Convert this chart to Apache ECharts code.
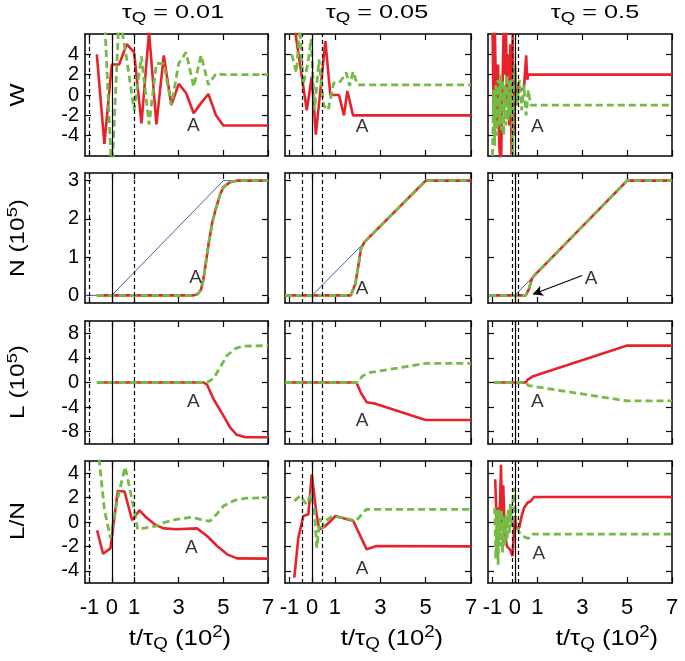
<!DOCTYPE html>
<html>
<head>
<meta charset="utf-8">
<script src="https://cdn.jsdelivr.net/npm/echarts@6.0.0/dist/echarts.min.js"></script>
<style>
html,body{margin:0;padding:0;background:#ffffff;}
#chart{width:685px;height:661px;}
</style>
</head>
<body>
<div id="chart"></div>
<script>
// ---------------- data ----------------
const tauQ = ['0.01', '0.05', '0.5'];
const tHat = [1.0, 0.45, 0.13];
const xTicks = [-1, 0, 1, 3, 5, 7];
const yTicksW = [-4, -2, 0, 2, 4];
const yTicksN = [0, 1, 2, 3];
const yTicksL = [-8, -4, 0, 4, 8];
const yTicksLN = [-4, -2, 0, 2, 4];

// W panels
const W_001_red = [[-0.67,4.0],[-0.33,-4.8],[0.0,3.0],[0.33,3.0],[0.67,5.0],[1.0,4.2],[1.33,-2.8],[1.67,6.2],[2.0,-2.9],[2.33,3.9],[2.67,-1.0],[3.0,1.1],[3.33,0.2],[3.67,-1.8],[4.0,-0.8],[4.33,0.1],[4.67,-2.0],[5.0,-3.0],[7.0,-3.0]];
const W_001_green = [[-0.67,8.0],[-0.33,8.0],[0.0,-8.0],[0.33,8.0],[0.67,3.5],[1.0,-1.5],[1.33,3.8],[1.67,-2.9],[2.0,3.1],[2.33,3.1],[2.67,-1.0],[3.0,3.1],[3.33,4.2],[3.67,0.8],[4.0,3.9],[4.33,1.0],[4.67,2.1],[5.0,2.0],[7.0,2.0]];
const W_005_red = [[-0.8,7.0],[-0.24,-1.5],[-0.02,1.8],[0.16,-3.9],[0.58,5.3],[0.8,0.0],[1.18,0.0],[1.4,-2.0],[1.55,0.4],[1.8,-2.0],[7.0,-2.0]];
const W_005_green = [[-0.9,4.0],[-0.7,2.2],[-0.55,6.5],[-0.4,1.0],[-0.2,3.0],[-0.05,5.5],[0.1,-1.5],[0.3,3.5],[0.5,-1.0],[0.7,-1.5],[0.95,1.2],[1.2,1.2],[1.5,2.2],[1.65,0.9],[1.8,2.3],[2.0,1.0],[7.0,1.0]];
const W_05_red = [[-1.0,7],[-0.95,-2],[-0.9,7],[-0.85,1],[-0.8,-3],[-0.75,3],[-0.7,-5],[-0.62,-7],[-0.55,-7],[-0.5,7],[-0.45,2],[-0.4,7],[-0.35,-1],[-0.3,4],[-0.25,-3],[-0.2,5],[-0.15,-6],[-0.1,6],[-0.05,-4],[0.0,3],[0.05,-1],[0.1,1],[0.2,0.5],[0.4,0.6],[0.5,3.9],[0.55,1.5],[0.6,2.0],[7.0,2.0]];
const W_05_green = [[-1.0,-6],[-0.95,0.5],[-0.9,-5],[-0.85,1],[-0.8,-4],[-0.75,1.5],[-0.7,-3],[-0.65,2],[-0.6,-3.5],[-0.55,1.5],[-0.5,-4],[-0.45,1],[-0.4,-3],[-0.35,2],[-0.3,-2.5],[-0.25,1.5],[-0.2,-2],[-0.15,1.5],[-0.1,-6],[-0.05,2],[0.0,3],[0.1,-1],[0.2,1.5],[0.3,-1.5],[0.4,1.0],[0.5,-2.0],[0.6,0.5],[0.7,-1.0],[7.0,-1.0]];

// N panels (red and green coincide)
const N_001 = [[-0.67,0],[3.67,0],[3.85,0.03],[4.0,0.15],[4.12,0.47],[4.34,1.35],[4.5,1.9],[4.64,2.22],[4.86,2.65],[5.0,2.83],[5.3,2.96],[5.6,3.0],[7.0,3.0]];
const N_005 = [[-1.2,0],[1.7,0],[1.9,0.3],[2.05,0.83],[2.15,1.22],[2.3,1.39],[5.0,3.0],[7.0,3.0]];
const N_05 = [[-1.15,0],[0.48,0],[0.63,0.17],[0.75,0.43],[0.85,0.51],[5.0,3.0],[7.0,3.0]];
const N_linear = [[-1.2,0],[0,0],[5,3],[7,3]];

// L panels
const L_001_red = [[-0.67,0],[4.12,0],[4.27,-0.37],[4.57,-2.77],[5.0,-5.4],[5.3,-7.3],[5.6,-8.5],[6.0,-8.9],[7.0,-8.9]];
const L_001_green = [[-0.67,0],[4.27,0],[4.57,0.7],[4.87,2.56],[5.17,4.43],[5.54,5.5],[5.84,5.9],[7.0,6.0]];
const L_005_red = [[-1.2,0],[1.95,0],[2.15,-1.7],[2.4,-3.2],[2.75,-3.4],[5.0,-6.1],[7.0,-6.1]];
const L_005_green = [[-1.2,0],[2.0,0],[2.22,1.07],[2.52,1.6],[5.0,3.1],[7.0,3.1]];
const L_05_red = [[-0.92,0],[0.48,0],[0.56,0.43],[0.78,0.96],[5.0,6.0],[7.0,6.0]];
const L_05_green = [[-0.92,0],[0.5,0],[0.6,-0.5],[5.0,-3.0],[7.0,-3.0]];

// L/N panels
const LN_001_red = [[-0.66,-0.68],[-0.39,-2.6],[-0.06,-2.16],[0.27,2.54],[0.57,2.5],[0.91,0.14],[1.24,0.96],[1.55,0.36],[1.96,-0.25],[2.33,-0.52],[2.9,-0.6],[3.82,-0.52],[4.27,-1.15],[4.72,-1.97],[5.17,-2.65],[5.61,-2.98],[7.0,-3.0]];
const LN_001_green = [[-0.67,7.0],[-0.33,1.0],[-0.06,-1.3],[0.27,2.0],[0.6,4.5],[0.95,1.5],[1.16,-0.6],[1.98,-0.33],[2.33,-0.05],[2.9,0.22],[3.6,0.4],[4.1,0.14],[4.4,0.08],[4.7,0.63],[5.0,1.31],[5.5,1.78],[6.0,1.95],[7.0,2.0]];
const LN_005_red = [[-0.79,-4.56],[-0.61,-1.28],[-0.39,0.49],[-0.17,0.63],[-0.02,3.9],[0.18,0.77],[0.31,-0.6],[0.58,-0.33],[1.03,0.49],[1.81,0.08],[2.4,-2.24],[2.83,-1.97],[7.0,-2.0]];
const LN_005_green = [[-0.79,1.72],[-0.54,2.13],[-0.25,1.45],[-0.05,2.3],[0.1,1.0],[0.2,-2.1],[0.35,0.3],[0.45,-0.5],[0.58,0.1],[0.9,0.49],[1.5,0.3],[1.93,0.08],[2.38,1.04],[7.0,1.04]];
const LN_05_red = [[-0.88,3.5],[-0.82,0.3],[-0.76,1.2],[-0.7,-1.0],[-0.62,4.7],[-0.58,0.0],[-0.52,3.0],[-0.45,-1.0],[-0.35,-2.0],[-0.2,-2.3],[-0.11,-2.8],[0.0,0.5],[0.05,-0.5],[0.19,-0.46],[0.3,0.5],[0.41,1.17],[0.56,1.58],[0.7,1.7],[0.85,2.05],[7.0,2.05]];
const LN_05_green = [[-0.9,1.2],[-0.85,-3.0],[-0.8,1.0],[-0.75,-3.5],[-0.7,1.0],[-0.65,-2.0],[-0.6,1.0],[-0.55,-2.5],[-0.5,0.5],[-0.45,-2.0],[-0.4,0.5],[-0.35,-1.5],[-0.3,1.0],[-0.25,-1.0],[-0.2,1.5],[-0.15,-0.5],[-0.1,1.5],[-0.05,2.8],[0.05,0.0],[0.19,-0.87],[0.41,-1.2],[0.56,-1.34],[0.7,-1.3],[0.8,-1.0],[7.0,-1.0]];

// "A" annotation anchors (data coords), row-major
const A_pos = [[3.65,-3.0],[2.2,-3.1],[1.0,-3.1],[3.75,0.47],[2.2,0.18],[3.39,0.44],[3.66,-3.1],[2.2,-6.3],[1.0,-3.2],[3.57,-2.1],[2.2,-3.8],[1.07,-2.6]];
const A_arrow = [[3.0,0.52],[0.8,0.03]];

// ---------------- layout / style ----------------
const FONT = '"Liberation Sans", Arial, Helvetica, sans-serif';
const RED = '#e8222a';
const GREEN = '#74bb45';
const BLUE = '#4060b0';
const colL = [85, 285, 488];
const colW = [183, 186, 184];
const rowT = [34, 173, 321, 461];
const rowH = [122, 130, 123, 122];
const xRange = [-1.2, 7];
const yRanges = [[-6, 6], [-0.2, 3.2], [-10, 10], [-5, 5]];
const yTicks = [yTicksW, yTicksN, yTicksL, yTicksLN];

const panelData = [
  [[W_001_red, W_001_green], [W_005_red, W_005_green], [W_05_red, W_05_green]],
  [[N_001, N_001], [N_005, N_005], [N_05, N_05]],
  [[L_001_red, L_001_green], [L_005_red, L_005_green], [L_05_red, L_05_green]],
  [[LN_001_red, LN_001_green], [LN_005_red, LN_005_green], [LN_05_red, LN_05_green]]
];

const grid = [], xAxis = [], yAxis = [], series = [];
const lineBox = {show: true, onZero: false, lineStyle: {color: '#000', width: 1.5}};

for (let r = 0; r < 4; r++) {
  for (let c = 0; c < 3; c++) {
    const g = r * 3 + c;
    grid.push({left: colL[c], top: rowT[r], width: colW[c], height: rowH[r]});
    const xt = {show: true, inside: true, length: 6, customValues: xTicks, lineStyle: {color: '#000', width: 1.2}};
    const yt = {show: true, inside: true, length: 6, customValues: yTicks[r], lineStyle: {color: '#000', width: 1.2}};
    xAxis.push({type: 'value', gridIndex: g, position: 'bottom', min: xRange[0], max: xRange[1],
      axisLine: lineBox, axisTick: xt, splitLine: {show: false},
      axisLabel: {show: r === 3, customValues: xTicks, fontSize: 22, fontFamily: FONT, color: '#000', margin: 14}});
    xAxis.push({type: 'value', gridIndex: g, position: 'top', min: xRange[0], max: xRange[1],
      axisLine: lineBox, axisTick: xt, splitLine: {show: false}, axisLabel: {show: false}});
    yAxis.push({type: 'value', gridIndex: g, position: 'left', min: yRanges[r][0], max: yRanges[r][1],
      axisLine: lineBox, axisTick: yt, splitLine: {show: false},
      axisLabel: {show: c === 0, customValues: yTicks[r], fontSize: 20, fontFamily: FONT, color: '#000', margin: 6}});
    yAxis.push({type: 'value', gridIndex: g, position: 'right', min: yRanges[r][0], max: yRanges[r][1],
      axisLine: lineBox, axisTick: yt, splitLine: {show: false}, axisLabel: {show: false}});

    const xi = 2 * g, yi = 2 * g;
    // reference lines
    series.push({type: 'line', xAxisIndex: xi, yAxisIndex: yi, data: [[xRange[0], yRanges[r][0]]],
      symbol: 'none', lineStyle: {opacity: 0}, silent: true, z: 1,
      markLine: {silent: true, symbol: ['none', 'none'], label: {show: false}, animation: false,
        data: [
          {xAxis: 0, lineStyle: {color: '#000', width: 1.2, type: 'solid'}},
          {xAxis: -tHat[c], lineStyle: {color: '#000', width: 1.2, type: [4, 3]}},
          {xAxis: tHat[c], lineStyle: {color: '#000', width: 1.2, type: [4, 3]}}
        ]}});
    if (r === 1) {
      series.push({type: 'line', xAxisIndex: xi, yAxisIndex: yi, data: N_linear, symbol: 'none',
        lineStyle: {color: BLUE, width: 1}, silent: true, z: 2});
    }
    series.push({type: 'line', xAxisIndex: xi, yAxisIndex: yi, data: panelData[r][c][0], symbol: 'none',
      lineStyle: {color: RED, width: 2.6}, silent: true, z: 3});
    series.push({type: 'line', xAxisIndex: xi, yAxisIndex: yi, data: panelData[r][c][1], symbol: 'none',
      lineStyle: {color: GREEN, width: 2.8, type: [7, 4]}, silent: true, z: 4});
    const aSeries = {type: 'scatter', xAxisIndex: xi, yAxisIndex: yi, data: [A_pos[g]], symbolSize: 1,
      itemStyle: {color: 'rgba(0,0,0,0)'}, silent: true, z: 6,
      label: {show: true, position: 'inside', formatter: 'A', fontSize: 19, fontFamily: FONT, color: '#000'}};
    if (r === 1 && c === 2) {
      aSeries.markLine = {silent: true, symbol: ['none', 'arrow'], symbolSize: [8, 10], label: {show: false}, animation: false,
        lineStyle: {color: '#000', width: 1.2, type: 'solid'},
        data: [[{coord: A_arrow[0]}, {coord: A_arrow[1]}]]};
    }
    series.push(aSeries);
  }
}

// ---------------- text ----------------
const rich = {
  a: {fontSize: 19, fontFamily: FONT, fill: '#000'},
  sub: {fontSize: 14, fontFamily: FONT, fill: '#000', padding: [11, 0, 0, 0]},
  sup: {fontSize: 14, fontFamily: FONT, fill: '#000', padding: [0, 0, 11, 0]},
  y: {fontSize: 20, fontFamily: FONT, fill: '#000'},
  ysup: {fontSize: 15, fontFamily: FONT, fill: '#000', padding: [0, 0, 11, 0]},
  b: {fontSize: 22, fontFamily: FONT, fill: '#000'},
  bsub: {fontSize: 16, fontFamily: FONT, fill: '#000', padding: [12, 0, 0, 0]},
  bsup: {fontSize: 16, fontFamily: FONT, fill: '#000', padding: [0, 0, 12, 0]}
};
const titleX = [173, 377, 595];
const xNameX = [180, 392, 607];
const rowNames = ['{y|W}', '{y|N (10}{ysup|5}{y|)}', '{y|L (10}{ysup|5}{y|)}', '{y|L/N}'];
const rowNameY = [95, 238, 382, 521];
const graphic = [];
for (let c = 0; c < 3; c++) {
  graphic.push({type: 'text', x: titleX[c], y: 13, scaleX: 1.33, style: {text: '{a|τ}{sub|Q}{a| = ' + tauQ[c] + '}', rich: rich, align: 'center', verticalAlign: 'middle'}});
  graphic.push({type: 'text', x: xNameX[c], y: 639, scaleX: 1.17, style: {text: '{b|t/τ}{bsub|Q}{b| (10}{bsup|2}{b|)}', rich: rich, align: 'center', verticalAlign: 'middle'}});
}
for (let r = 0; r < 4; r++) {
  graphic.push({type: 'text', x: 18, y: rowNameY[r], rotation: Math.PI / 2, scaleX: 1.22, style: {text: rowNames[r], rich: rich, align: 'center', verticalAlign: 'middle'}});
}

const chart = echarts.init(document.getElementById('chart'), null, {renderer: 'canvas'});
chart.setOption({
  animation: false,
  backgroundColor: '#ffffff',
  grid, xAxis, yAxis, series, graphic
});
</script>
</body>
</html>
